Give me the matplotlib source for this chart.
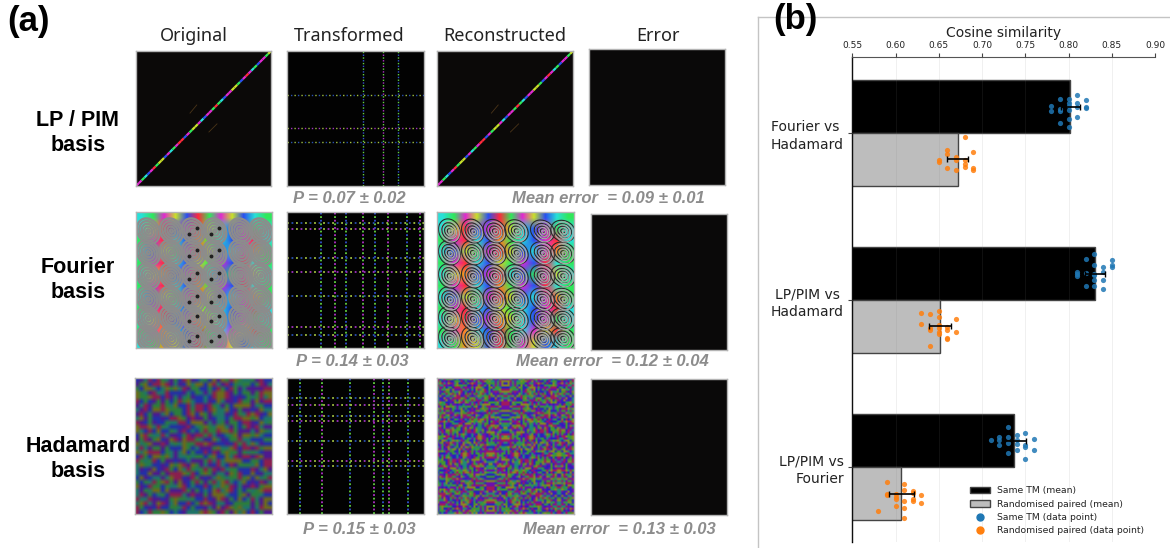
import numpy as np
import matplotlib
matplotlib.use('Agg')
import matplotlib.pyplot as plt
from matplotlib.colors import to_rgb
from matplotlib.lines import Line2D
from matplotlib.patches import Ellipse, Patch

W, H = 1170, 548

# --- panel (b) data ---
pair_labels = ['Fourier vs\nHadamard', 'LP/PIM vs\nHadamard', 'LP/PIM vs\nFourier']
label_align = ['left', 'center', 'right']
xticks = [0.55, 0.60, 0.65, 0.70, 0.75, 0.80, 0.85, 0.90]

same_mean = [0.802, 0.8306, 0.737]
rand_mean = [0.672, 0.6513, 0.6067]
same_err = [0.011, 0.012, 0.0135]
rand_err = [0.012, 0.0128, 0.0145]

same_x = [
    [.81, .79, .80, .82, .80, .81, .78, .80, .81, .82, .82, .78, .79, .79, .80, .80, .81, .79, .80],
    [.83, .82, .85, .83, .85, .84, .81, .81, .82, .83, .84, .83, .84, .82, .83, .84, .83, .81, .85],
    [.73, .72, .73, .74, .75, .76, .71, .72, .74, .73, .72, .74, .75, .75, .74, .76, .73, .75],
]
same_y = [
    [-.07, -.044, -.044, -.038, -.024, -.024, -.004, -.004, .004, 0, .008, .024, .016, .024, .02, .076, .064, .098, .12],
    [-.12, -.086, -.082, -.052, -.042, -.038, -.01, .014, -.006, 0, -.01, .04, .04, .072, .072, .094, .008, .002, -.05],
    [-.082, -.024, -.024, -.036, -.046, -.01, -.004, -.004, -.004, .012, .028, .02, .024, .036, .054, .056, .074, .11],
]
rand_x = [
    [.68, .66, .66, .69, .67, .67, .65, .65, .68, .68, .68, .66, .67, .69, .69],
    [.65, .63, .64, .65, .67, .63, .65, .64, .64, .65, .66, .66, .65, .65, .67, .66, .66, .64],
    [.59, .61, .61, .62, .62, .59, .59, .60, .60, .60, .63, .62, .62, .61, .63, .60, .61, .58, .61],
]
rand_y = [
    [-.136, -.058, -.034, -.042, -.014, .002, .002, .018, .006, .03, .048, .052, .062, .052, .064],
    [-.094, -.08, -.072, -.058, -.044, -.014, -.008, .01, .024, .01, .004, .02, .03, .046, .032, .07, .076, .116],
    [-.068, -.058, -.02, -.014, -.004, 0, .01, 0, .02, .032, .008, .03, .046, .044, .056, .072, .086, .106, .146],
]

# --- panel (a) text ---
col_titles = ['Original', 'Transformed', 'Reconstructed', 'Error']
col_title_x = [194, 349, 505, 658]
row_titles = ['LP / PIM\nbasis', 'Fourier\nbasis', 'Hadamard\nbasis']
row_title_x = [78, 78, 78]
row_title_y = [133, 280, 459]
p_text = ['P = 0.07 ± 0.02', 'P = 0.14 ± 0.03', 'P = 0.15 ± 0.03']
p_x = [349, 352, 359]
err_text = ['Mean error  = 0.09 ± 0.01', 'Mean error  = 0.12 ± 0.04', 'Mean error  = 0.13 ± 0.03']
err_x = [608, 612, 619]
caption_y = [198, 362, 530]

# panel boxes in image pixels: left, top, right, bottom
boxes = [
    [(136, 51, 271, 186), (287, 51, 424, 186), (437, 51, 573, 186), (589, 49, 725, 185)],
    [(136, 212, 272, 348), (287, 212, 424, 348), (437, 212, 574, 348), (591, 214, 727, 350)],
    [(135, 378, 272, 514), (287, 378, 424, 514), (437, 378, 574, 514), (591, 379, 727, 515)],
]

# colour letters used in the hand-read image textures
pal = {'r': '#ff2a3c', 'o': '#ff8a1a', 'y': '#c8e02a', 'g': '#2fe85a', 'c': '#28e0d8',
       'b': '#2a50f0', 'm': '#e02ad0', 'p': '#9a2ae8'}
dark = {'p': '#4d1a8e', 'g': '#2c7d3c', 'b': '#2230a6', 'm': '#8a1f4e', 'o': '#6c6a1c', 't': '#1f7468'}
bright = {'p': '#6a10b0', 'g': '#3f9a30', 'b': '#2a20c0', 'm': '#a01860', 'o': '#8a8a20', 't': '#1f8a78'}

diag_hues = 'mmgcbmrgyybmcgmrrbmgyymcbmmgrgcbmmyygbmrmcgbmmgy'

# line positions in the transformed images, fractions of the panel
trans_v = [[.556, .698, .813],
           [.25, .35, .434, .556, .641, .739, .873, .97],
           [.093, .259, .463, .634, .702, .746, .885]]
trans_h = [[.328, .432, .677],
           [.093, .154, .385, .556, .659, .873, .922],
           [.35, .39, .539, .686, .723, .80, .85]]

fourier_bg = ['cgmybrgmybcg',
              'cyrbmrycbmgc',
              'gmrcbogcbmrc',
              'cbygmrybcmog',
              'gmrcbygmbrcg',
              'cyobmrcbgmyc',
              'gmrcbogmbrcg',
              'cbygmrybcmog',
              'gmrcbygcbmrc',
              'cyrbmoycbmgc',
              'gmocbrgcmyrg',
              'cgoybrgmybcg']
swirl_cols = [.09, .26, .42, .58, .77, .92]
swirl_rows = [.07, .215, .36, .53, .70, .86]

hadamard = ['gpbmgtpbogpmbpgtmbpogbmtpgbmopgb',
            'pbgmopgtbmgpobtmgpbmtogpbmgptbog',
            'mgpbtmogpbgtmpbgoptmbgpmtbgopmbt',
            'ogbpmgtbpomgbtpgmobptgmbpogtmpbg',
            'bpmgtobpgmbtogpmbgtpombgtpbmogtp',
            'gtpbmgpobtgmpbmotgpbmtgpobgmtpbo',
            'pmgobtmpgbomtgbpmgotbpmgbtopmgbp',
            'tbpgmobtpgmbogtpbmgotpbgmtobpgmb',
            'mgbtpomgbptgmobgptmbogtpmgbotpgm',
            'opmgbtpomgbpgtmobgpmtbogpbmgtopb',
            'gbtpogmbtpgombtgpmobgtpmbogtpgmb',
            'pmogbtpmgobtpmgbotpmgtbopmgbtpog',
            'bgtpmobgptmogbptgmobpgtmobgpmtob',
            'tpombgtpomgbtpomgbtpgombtpgmobtg',
            'mbgptombgtpombgptomgbpotmgbpotmb',
            'gobtpmgobtpmgobtpmgtobpmgtobpmgt',
            'pmtgobpmtgbopmtgbopgmtbopgmtbopm',
            'obpgmtobgpmtobgpmtogbpmtogbpmtog',
            'gmtobpgmtobpgmotbpgmotbpgmobtpgm',
            'bpogmtbpogmtbpgomtbpgomtbgpomtbg',
            'tgmbpotgmbpotgmbpotmgbpotmgbopmt',
            'pbtogmpbtogmpbtgomptbgomptbgompb',
            'mogtbpmogtbpmogtpbmogptbmogptbmo',
            'gpmbotgpmbotgpmboptgmbopgtmbopgt',
            'btgompbbtgompbtgopmbtgopmbgtopmb',
            'ompgbtompgbtompgtbompgtbompgtbom',
            'pgbmotpgbmotpgbmtopgbmtopbgmtopb',
            'tmopgbtmopgbtmopbgtmopbgtmobpgtm',
            'gbptmogbptmogbptomgbptomgbpotmgb',
            'mtgbpomtgbpomtgbopmtgbopmtgboptg',
            'ogmptbogmptbogmtpbogmtpbogmtbpog',
            'bpomgtbpomgtbpomtgbpomtgbpmotgbp']
# row and column orders that break up the diagonals of the typed rows
row_order = [7, 22, 3, 29, 14, 0, 18, 25, 9, 31, 5, 20, 12, 27, 1, 16, 23, 10, 30, 6, 19, 2, 26, 13, 8, 28, 17, 4, 21, 11, 24, 15]
col_order = [11, 2, 25, 17, 6, 30, 13, 0, 21, 9, 27, 4, 19, 15, 31, 7, 23, 1, 12, 28, 5, 18, 10, 26, 3, 20, 14, 29, 8, 24, 16, 22]


def px_axes(box):
    l, t, r, b = box
    ax = fig.add_axes([l/W, 1-b/H, (r-l)/W, (b-t)/H])
    ax.set_xlim(0, 1)
    ax.set_ylim(0, 1)
    ax.set_xticks([])
    ax.set_yticks([])
    for s in ax.spines.values():
        s.set_color('#b4b4b4')
        s.set_linewidth(1)
    return ax


def grid_img(ax, rows, colours, interp='nearest'):
    img = np.array([[to_rgb(colours[c]) for c in row] for row in rows])
    ax.imshow(img, extent=(0, 1, 0, 1), aspect='auto', interpolation=interp)
    ax.set_xlim(0, 1)
    ax.set_ylim(0, 1)


def lp_image(ax):
    ax.set_facecolor('#0b0908')
    n = len(diag_hues)
    for i, c in enumerate(diag_hues):
        ax.plot([i/n, (i+1)/n], [i/n, (i+1)/n], color=pal[c], lw=1.6, solid_capstyle='butt')
    ax.plot([.40, .45], [.54, .60], color='#4a3418', lw=.6)
    ax.plot([.54, .60], [.40, .46], color='#4a3418', lw=.6)


def trans_image(ax, vs, hs, lw, bg='#020202'):
    ax.set_facecolor(bg)
    for i, v in enumerate(vs):
        ax.vlines(v, 0, 1, color='#60d040', lw=lw, linestyle=(0, (1, 3)))
        ax.vlines(v, 0, 1, color='#b030c8' if i % 2 else '#3050d0', lw=lw, linestyle=(2, (1, 3)))
    for i, h in enumerate(hs):
        ax.hlines(h, 0, 1, color='#a0c040', lw=lw, linestyle=(0, (1, 4)))
        ax.hlines(h, 0, 1, color='#a030c0' if i % 2 else '#2850b0', lw=lw, linestyle=(2.5, (1, 4)))


def fourier_image(ax, recon=False):
    grid_img(ax, fourier_bg, pal, interp='bilinear')
    for j, cx in enumerate(swirl_cols):
        for k, cy in enumerate(swirl_rows):
            if recon:
                for w in [.16, .11, .07, .03]:
                    ax.add_patch(Ellipse((cx, cy), w*.95, w*1.15, angle=25+8*j, fill=False,
                                         ec='#2a2a2a', lw=.8))
                    ax.add_patch(Ellipse((cx+.008, cy-.006), w*.8, w*.95, angle=25, fill=False,
                                         ec='#a8a8a8', lw=.9))
            else:
                for w in [.185, .145, .105, .065, .025]:
                    ax.add_patch(Ellipse((cx, cy), w*.85, w*1.05, angle=30, fill=False,
                                         ec='#8c8c8c', lw=1.7))
                if j in (2, 3):
                    ax.plot([cx-.03, cx+.03], [cy-.02, cy+.02], ls='none', marker='o', ms=1.8, color='#202020')


fig = plt.figure(figsize=(W/100, H/100), dpi=100)
fig.patch.set_facecolor('white')

# frame around panel (b)
fig.add_artist(Line2D([758/W, 1], [1-17/H, 1-17/H], color='#c4c4c4', lw=1))
fig.add_artist(Line2D([758/W, 758/W], [0, 1-17/H], color='#c4c4c4', lw=1))

# --- panel (a) images ---
had_orig = [''.join(hadamard[i][j] for j in col_order) for i in row_order]
had_rec = [row + row[::-1] for row in had_orig[::-1]]
had_rec = had_rec + [row[7:] + row[:7] for row in had_rec[::-1]]

for r in range(3):
    for c in range(4):
        ax = px_axes(boxes[r][c])
        if c == 3:
            ax.set_facecolor('#0a0909')
        elif c == 1:
            trans_image(ax, trans_v[r], trans_h[r], lw=1.0 if r == 0 else 1.3)
        elif r == 0:
            lp_image(ax)
        elif r == 1:
            fourier_image(ax, recon=(c == 2))
        elif c == 0:
            grid_img(ax, had_orig, dark, interp='bilinear')
        else:
            grid_img(ax, had_rec, bright, interp='bilinear')

sans = ['Noto Sans', 'DejaVu Sans']
heavy = ['Liberation Sans', 'DejaVu Sans']
for t, x in zip(col_titles, col_title_x):
    fig.text(x/W, 1-36/H, t, ha='center', va='center', fontsize=13, color='#222222', family=sans)
for t, x, y in zip(row_titles, row_title_x, row_title_y):
    fig.text(x/W, 1-y/H, t, ha='center', va='center', fontsize=15.5, fontweight='bold',
             color='black', family=heavy, linespacing=1.25)
for r in range(3):
    fig.text(p_x[r]/W, 1-caption_y[r]/H, p_text[r], ha='center', va='center', fontsize=12,
             style='italic', fontweight='bold', color='#8c8c8c', family=heavy)
    fig.text(err_x[r]/W, 1-caption_y[r]/H, err_text[r], ha='center', va='center', fontsize=12,
             style='italic', fontweight='bold', color='#8c8c8c', family=heavy)
fig.text(28/W, 1-21/H, '(a)', ha='center', va='center', fontsize=25, fontweight='bold', family=heavy)
fig.text(795/W, 1-20/H, '(b)', ha='center', va='center', fontsize=25, fontweight='bold', family=heavy)

# --- panel (b) chart ---
ax = fig.add_axes([852.3/W, 1-541.7/H, (1155-852.3)/W, (541.7-57)/H])
ypos = np.arange(len(pair_labels))
bar_h = 0.317
ax.barh(ypos-bar_h/2, same_mean, bar_h, color='black', edgecolor='#444444', lw=1, zorder=2)
ax.barh(ypos+bar_h/2, rand_mean, bar_h, color='#bdbdbd', edgecolor='#444444', lw=1, zorder=2)
ax.grid(axis='x', color='#808080', alpha=.12, lw=.7, zorder=3)
ax.set_axisbelow(False)

for i in ypos:
    ax.scatter(same_x[i], i-bar_h/2+np.array(same_y[i]), s=14, color='tab:blue', alpha=.85, lw=0, zorder=4)
    ax.scatter(rand_x[i], i+bar_h/2+np.array(rand_y[i]), s=14, color='tab:orange', alpha=.85, lw=0, zorder=4)
    ax.errorbar(same_mean[i], i-bar_h/2, xerr=same_err[i], color='black', lw=1.2, capsize=2, zorder=5)
    ax.errorbar(rand_mean[i], i+bar_h/2, xerr=rand_err[i], color='black', lw=1.2, capsize=2, zorder=5)

ax.set_xlim(0.55, 0.90)
ax.set_ylim(2.447, -0.455)
ax.xaxis.tick_top()
ax.xaxis.set_label_position('top')
ax.set_xticks(xticks)
ax.set_xticklabels([f'{v:.2f}' for v in xticks])
ax.tick_params(axis='x', labelsize=6.5, length=3, width=.8, pad=2, color='#444444', labelcolor='#222222')
ax.set_xlabel('Cosine similarity', fontsize=10, labelpad=3, color='#222222')
ax.set_yticks(ypos)
ax.set_yticklabels(pair_labels, fontsize=10, color='#222222', linespacing=1.3)
for lab, al in zip(ax.get_yticklabels(), label_align):
    lab.set_multialignment(al)
ax.tick_params(axis='y', length=3, width=.8, pad=3, color='#444444')
ax.spines['right'].set_visible(False)
ax.spines['bottom'].set_visible(False)
ax.spines['top'].set_color('#555555')
ax.spines['top'].set_linewidth(.8)
ax.spines['left'].set_color('black')
ax.spines['left'].set_linewidth(1)

handles = [Patch(facecolor='black', edgecolor='#444444', label='Same TM (mean)'),
           Patch(facecolor='#bdbdbd', edgecolor='#444444', label='Randomised paired (mean)'),
           Line2D([], [], ls='none', marker='o', ms=5, color='tab:blue', label='Same TM (data point)'),
           Line2D([], [], ls='none', marker='o', ms=5, color='tab:orange', label='Randomised paired (data point)')]
ax.legend(handles=handles, loc='lower left', bbox_to_anchor=(970/W, 1-535/H), bbox_transform=fig.transFigure,
          frameon=False, fontsize=6.7, borderpad=0, borderaxespad=0, labelspacing=.45,
          handlelength=2.1, handletextpad=.8, labelcolor='#222222')

fig.savefig('out.png', dpi=100)
